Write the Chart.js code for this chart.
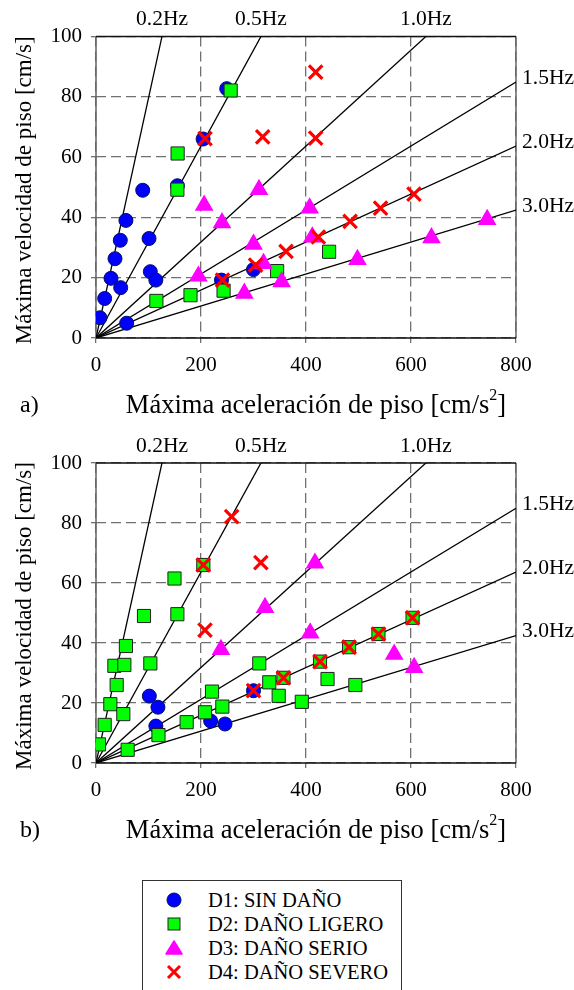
<!DOCTYPE html>
<html>
<head>
<meta charset="utf-8">
<script src="https://cdn.jsdelivr.net/npm/chart.js@4.4.0/dist/chart.umd.min.js"></script>
<style>
body{margin:0;background:#fff;width:574px;height:990px;overflow:hidden;position:relative;font-family:"Liberation Serif",serif}
canvas{position:absolute;left:0}
#legend{position:absolute;left:142px;top:880px;width:260px;height:130px;border:1.5px solid #333;box-sizing:border-box}
.row{position:absolute;left:0;width:100%;height:24px;font-size:20.5px;line-height:24px;color:#000}
.row svg{position:absolute;left:22px;top:3px}
.row span{position:absolute;left:65px;top:0;white-space:nowrap}
</style>
</head>
<body>
<canvas id="chartA" width="574" height="425" style="top:0"></canvas>
<canvas id="chartB" width="574" height="425" style="top:425px"></canvas>
<div id="legend">
  <div class="row" style="top:7px"><svg width="18" height="18"><circle cx="9" cy="9" r="7" fill="#0000ff" stroke="#001060" stroke-width="1"/></svg><span>D1: SIN DAÑO</span></div>
  <div class="row" style="top:31px"><svg width="18" height="18"><rect x="3" y="3" width="12" height="12" fill="#00ff00" stroke="#222" stroke-width="1"/></svg><span>D2: DAÑO LIGERO</span></div>
  <div class="row" style="top:55px"><svg width="18" height="18"><polygon points="9,2 17,15 1,15" fill="#ff00ff" stroke="#ff00ff" stroke-width="1.5" stroke-linejoin="round"/></svg><span>D3: DAÑO SERIO</span></div>
  <div class="row" style="top:79px"><svg width="18" height="18"><path d="M3,3 L15,15 M15,3 L3,15" stroke="#ff0000" stroke-width="3"/></svg><span>D4: DAÑO SEVERO</span></div>
</div>
<script>
// frecuencias de las rectas v = a / (2 pi f)
var freqs = [0.2, 0.5, 1.0, 1.5, 2.0, 3.0];
var freqLabels = ['0.2Hz', '0.5Hz', '1.0Hz', '1.5Hz', '2.0Hz', '3.0Hz'];
var xTicks = [0, 200, 400, 600, 800];
var yTicks = [0, 20, 40, 60, 80, 100];
var seriesNames = ['D1: SIN DAÑO', 'D2: DAÑO LIGERO', 'D3: DAÑO SERIO', 'D4: DAÑO SEVERO'];

// a) [aceleración, velocidad]
var d1a = [[7.6,6.7],[16.5,13.1],[28.6,19.8],[36.2,26.3],[46.3,32.4],[57,39],[47,16.7],[58.4,4.9],[89,49],[101,33],[103.5,22],[114,19.2],[155,50.5],[204,66],[249,82.7],[239,19.2],[300,22.7]];
var d2a = [[155.5,61.2],[256.5,82.1],[155,49.2],[115,12.3],[180,14.2],[243,15.7],[345,22.2],[444,28.6]];
var d3a = [[206,44],[240,38.2],[310.5,49.2],[407,43.1],[300,31.1],[195,20.5],[319,24.7],[353.6,18.6],[282.6,14.8],[412,33.5],[498,26],[639,33.2],[745,39.3]];
var d4a = [[207.6,66.1],[317.5,66.7],[418.4,88.2],[418.4,66.3],[423.5,33.5],[484,38.7],[542,43.1],[605.7,47.7],[241,19.2],[304,24.2],[362,28.7]];

// b)
var d1b = [[101.6,22.3],[118,18.6],[114,12.3],[218.4,14],[245.7,13],[300,24.1]];
var d2b = [[149.5,61.5],[204.4,66],[91.4,49],[155,49.6],[57,39],[35,32.4],[54,32.7],[103.5,33.2],[39.4,26],[27.3,19.6],[52,16.3],[16.5,12.7],[5.7,6.2],[60.3,4.4],[119,9.3],[172.7,13.6],[207.6,16.9],[221,23.8],[240.6,18.8],[311,33.2],[330,26.9],[348,22.4],[357,28.4],[392,20.4],[441,28],[494,26],[426.7,33.8],[482,38.6],[538,43],[603,48.4]];
var d3b = [[322,51.8],[238,37.8],[417,66.6],[408,43.3],[568,36.2],[606,31.8]];
var d4b = [[258.4,82.1],[204.4,66],[314,66.8],[207.6,44.3],[300,24.1],[357,28.4],[426.7,33.8],[482,38.6],[538,43],[603,48.4]];

var FONT = '"Liberation Serif", "Times New Roman", serif';

function pts(arr){
  return arr.map(function(p){ return {x:p[0], y:p[1]}; });
}

function buildDatasets(d1, d2, d3, d4){
  var ds = [];
  freqs.forEach(function(f){
    ds.push({
      label: 'f' + f,
      data: [{x:0, y:0}, {x:800, y:800/(2*Math.PI*f)}],
      showLine: true,
      borderColor: '#000',
      borderWidth: 1.3,
      pointRadius: 0,
      order: 10
    });
  });
  ds.push({label: seriesNames[0], data: pts(d1), pointStyle: 'circle', pointRadius: 7,
           backgroundColor: '#0000ff', borderColor: '#001060', borderWidth: 1, order: 4});
  ds.push({label: seriesNames[1], data: pts(d2), pointStyle: 'rect', pointRadius: 9.3,
           backgroundColor: '#00ff00', borderColor: '#222', borderWidth: 1, order: 3});
  ds.push({label: seriesNames[2], data: pts(d3), pointStyle: 'triangle', pointRadius: 9.3,
           backgroundColor: '#ff00ff', borderColor: '#ff00ff', borderWidth: 1.5, order: 2});
  ds.push({label: seriesNames[3], data: pts(d4), pointStyle: 'crossRot', pointRadius: 9.5,
           backgroundColor: '#ff0000', borderColor: '#ff0000', borderWidth: 3.2, order: 1});
  return ds;
}

// marco, títulos y etiquetas de frecuencia
var decor = {
  id: 'decor',
  beforeDatasetsDraw: function(chart){
    var a = chart.chartArea, ctx = chart.ctx;
    ctx.save();
    ctx.lineWidth = 1.5;
    ctx.strokeStyle = '#666';
    ctx.beginPath();
    ctx.moveTo(a.left, a.top); ctx.lineTo(a.left, a.bottom);
    ctx.moveTo(a.right, a.top); ctx.lineTo(a.right, a.bottom);
    ctx.stroke();
    ctx.strokeStyle = '#111';
    ctx.beginPath();
    ctx.moveTo(a.left, a.top); ctx.lineTo(a.right, a.top);
    ctx.moveTo(a.left, a.bottom); ctx.lineTo(a.right, a.bottom);
    ctx.stroke();
    ctx.restore();
  },
  afterDraw: function(chart, args, opts){
    var a = chart.chartArea, ctx = chart.ctx;
    var xs = chart.scales.x, ys = chart.scales.y;
    ctx.save();
    ctx.fillStyle = '#000';
    ctx.textBaseline = 'middle';
    ctx.font = '21.5px ' + FONT;
    freqs.forEach(function(f, i){
      var w = 2*Math.PI*f;
      var vEnd = 800/w;
      if (vEnd > 100) {
        ctx.textAlign = 'center';
        ctx.fillText(freqLabels[i], xs.getPixelForValue(100*w), a.top - 17);
      } else {
        ctx.textAlign = 'left';
        ctx.fillText(freqLabels[i], a.right + 6, ys.getPixelForValue(vEnd) - 4);
      }
    });
    // eje y
    ctx.font = '23px ' + FONT;
    ctx.textAlign = 'center';
    ctx.save();
    ctx.translate(25, (a.top + a.bottom)/2 + 3);
    ctx.rotate(-Math.PI/2);
    ctx.fillText('Máxima velocidad de piso [cm/s]', 0, 0);
    ctx.restore();
    // eje x con superíndice
    var yT = a.bottom + 68;
    var big = '26.5px ' + FONT, small = '16px ' + FONT;
    ctx.font = big;
    var s1 = 'Máxima aceleración de piso [cm/s', s3 = ']';
    var w1 = ctx.measureText(s1).width, w3 = ctx.measureText(s3).width;
    ctx.font = small;
    var w2 = ctx.measureText('2').width;
    var cx = (a.left + a.right)/2 + 10;
    var x0 = cx - (w1 + w2 + w3)/2;
    ctx.textAlign = 'left';
    ctx.font = big;
    ctx.fillText(s1, x0, yT);
    ctx.fillText(s3, x0 + w1 + w2, yT);
    ctx.font = small;
    ctx.fillText('2', x0 + w1, yT - 10);
    ctx.font = '24px ' + FONT;
    ctx.fillText(opts.tag, 20, yT);
    ctx.restore();
  }
};

function makeChart(id, datasets, top, tag){
  return new Chart(document.getElementById(id).getContext('2d'), {
    type: 'scatter',
    data: {datasets: datasets},
    plugins: [decor],
    options: {
      responsive: false,
      animation: false,
      layout: {padding: {left: 0, top: top, right: 58, bottom: 0}},
      plugins: {legend: {display: false}, tooltip: {enabled: false}, decor: {tag: tag}},
      scales: {
        x: {
          type: 'linear', min: 0, max: 800,
          afterBuildTicks: function(s){ s.ticks = xTicks.map(function(v){ return {value: v}; }); },
          afterFit: function(s){ s.height = 425 - 338; },
          grid: {color: '#707070', lineWidth: 1.3, tickLength: 5},
          border: {display: false, dash: [10, 5]},
          ticks: {color: '#000', font: {family: FONT, size: 21}, padding: 10, maxRotation: 0}
        },
        y: {
          type: 'linear', min: 0, max: 100,
          afterBuildTicks: function(s){ s.ticks = yTicks.map(function(v){ return {value: v}; }); },
          afterFit: function(s){ s.width = 96; },
          grid: {color: '#707070', lineWidth: 1.3, tickLength: 5},
          border: {display: false, dash: [10, 5]},
          ticks: {color: '#000', font: {family: FONT, size: 21}, padding: 9}
        }
      }
    }
  });
}

makeChart('chartA', buildDatasets(d1a, d2a, d3a, d4a), 36.5, 'a)');
makeChart('chartB', buildDatasets(d1b, d2b, d3b, d4b), 38, 'b)');
</script>
</body>
</html>
